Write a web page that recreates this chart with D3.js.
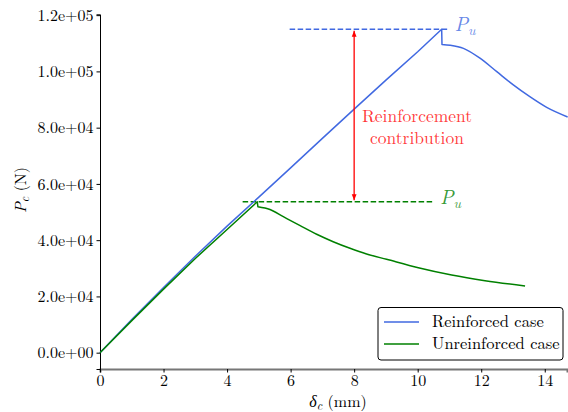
<!DOCTYPE html>
<html><head><meta charset="utf-8">
<script src="https://cdn.jsdelivr.net/npm/d3@7"></script>
</head>
<body style="margin:0;background:#fff"><svg id="c" width="568" height="412"></svg>
<script>
// ---- data ----
const xTicks = [0, 2, 4, 6, 8, 10, 12, 14];
const yTicks = [0, 20000, 40000, 60000, 80000, 100000, 120000];
const yTickLabels = ["0.0e+00","2.0e+04","4.0e+04","6.0e+04","8.0e+04","1.0e+05","1.2e+05"];
const reinforcedX = [0, 1, 2, 3, 4, 5, 6, 7, 8, 9, 10, 10.755, 10.765, 11.02, 11.44, 11.96, 12.49, 13.01, 13.53, 14.06, 14.72];
const reinforcedY = [0, 11800, 23200, 34300, 45000, 55300, 65700, 76200, 86600, 96900, 107000, 115000, 109600, 109300, 108200, 104700, 99900, 95200, 91000, 87200, 83800];
const unreinforcedX = [0, 1, 2, 3, 4, 4.95, 4.97, 5.35, 5.77, 6.30, 6.82, 7.34, 7.87, 8.39, 9.02, 10.02, 11.07, 12.12, 13.38];
const unreinforcedY = [0, 11400, 22600, 33500, 43800, 53650, 51900, 50900, 48350, 45150, 42090, 39460, 37110, 35090, 33200, 30220, 27620, 25600, 23710];
const puReinforced = 115000;
const puUnreinforced = 53650;
const dashReinforced = [5.97, 10.94];
const dashUnreinforced = [4.49, 10.48];
const arrowX = 8;
const seriesNames = ["Reinforced case", "Unreinforced case"];
const seriesColors = ["#4169e1", "#008000"];

// ---- chart ----
const FONT = '"Latin Modern Roman","Liberation Serif",serif';
const svg = d3.select("#c");
const x = d3.scaleLinear().domain([0, 14.7]).range([100, 567]);
const y = d3.scaleLinear().domain([-5800, 120300]).range([369, 14.3]);

const xAxis = svg.append("g").attr("transform", "translate(0,369)")
  .call(d3.axisBottom(x).tickValues(xTicks).tickSize(3.5).tickPadding(2.5).tickFormat(d3.format("d")));
const yAxis = svg.append("g").attr("transform", "translate(100,0)")
  .call(d3.axisLeft(y).tickValues(yTicks).tickSize(3.5).tickPadding(3).tickFormat((d,i)=>yTickLabels[i]));
[xAxis, yAxis].forEach(a => {
  a.selectAll("text").style("font-family", FONT).style("font-size", "16px").attr("fill", "#000");
  a.select(".domain").attr("stroke", "#000").attr("stroke-width", 1);
  a.selectAll(".tick line").attr("stroke", "#000");
});
xAxis.select(".domain").attr("stroke", "#777").attr("stroke-width", 2);

// rising part: straight segments; softening part: smooth curve
function drawSeries(xs, ys, color) {
  const data = xs.map((v, i) => [v, ys[i]]);
  const peak = d3.maxIndex(ys);
  const rise = data.slice(0, peak + 2);
  const fall = data.slice(peak + 1);
  const lin = d3.line().x(d => x(d[0])).y(d => y(d[1]));
  const mono = d3.line().x(d => x(d[0])).y(d => y(d[1])).curve(d3.curveMonotoneX);
  const d = lin(rise) + "L" + mono(fall).slice(1);
  svg.append("path").attr("d", d).attr("fill", "none")
    .attr("stroke", color).attr("stroke-width", 1.5).attr("stroke-linejoin", "round");
}

// dashed Pu lines
svg.append("line").attr("x1", x(dashReinforced[0])).attr("x2", x(dashReinforced[1]))
  .attr("y1", y(puReinforced)).attr("y2", y(puReinforced))
  .attr("stroke", seriesColors[0]).attr("stroke-width", 1.5).attr("stroke-dasharray", "5.5,2.5");
svg.append("line").attr("x1", x(dashUnreinforced[0])).attr("x2", x(dashUnreinforced[1]))
  .attr("y1", y(puUnreinforced)).attr("y2", y(puUnreinforced))
  .attr("stroke", seriesColors[1]).attr("stroke-width", 1.5).attr("stroke-dasharray", "5.5,2.5");

drawSeries(reinforcedX, reinforcedY, seriesColors[0]);
drawSeries(unreinforcedX, unreinforcedY, seriesColors[1]);

// Pu labels
function puLabel(xp, yp, color) {
  const t = svg.append("text").attr("x", xp).attr("y", yp).attr("fill", color).attr("fill-opacity", 0.8)
    .style("font-family", FONT).style("font-size", "20px").style("font-style", "italic");
  t.append("tspan").text("P");
  t.append("tspan").style("font-size", "14px").attr("dy", 4).text("u");
}
puLabel(x(dashReinforced[1]) + 7, y(puReinforced) + 2, seriesColors[0]);
puLabel(x(dashUnreinforced[1]) + 7, y(puUnreinforced) + 2, seriesColors[1]);

// red double arrow
const defs = svg.append("defs");
["s","e"].forEach(k => {
  defs.append("marker").attr("id", "ar" + k).attr("viewBox", "0 0 10 10").attr("refX", 10).attr("refY", 5)
    .attr("markerWidth", 6).attr("markerHeight", 6).attr("orient", "auto-start-reverse").attr("markerUnits", "userSpaceOnUse")
    .append("path").attr("d", "M0,1 L10,5 L0,9 Z").attr("fill", "red");
});
svg.append("line").attr("x1", x(arrowX)).attr("x2", x(arrowX))
  .attr("y1", y(puReinforced) + 1.5).attr("y2", y(puUnreinforced) - 1.5)
  .attr("stroke", "red").attr("stroke-width", 1.3)
  .attr("marker-start", "url(#ars)").attr("marker-end", "url(#are)");

[["Reinforcement", 121.5], ["contribution", 143.5]].forEach(([s, yy]) => {
  svg.append("text").attr("fill", "red").attr("fill-opacity", 0.8).attr("text-anchor", "middle")
    .attr("x", 417).attr("y", yy)
    .style("font-family", FONT).style("font-size", "17.5px").text(s);
});

// axis labels
const xl = svg.append("text").attr("x", 338).attr("y", 406.5).attr("text-anchor", "middle")
  .style("font-family", FONT).style("font-size", "16px");
xl.append("tspan").style("font-style", "italic").text("δ");
xl.append("tspan").style("font-style", "italic").style("font-size", "12px").attr("dy", 3).text("c");
xl.append("tspan").attr("dy", -3).text(" (mm)");

const yl = svg.append("text").attr("transform", "translate(26,190) rotate(-90)").attr("text-anchor", "middle")
  .style("font-family", FONT).style("font-size", "16px");
yl.append("tspan").style("font-style", "italic").text("P");
yl.append("tspan").style("font-style", "italic").style("font-size", "12px").attr("dy", 3).text("c");
yl.append("tspan").attr("dy", -3).text(" (N)");

// legend
const lg = svg.append("g");
lg.append("rect").attr("x", 378).attr("y", 307.5).attr("width", 185).attr("height", 52.5).attr("rx", 3)
  .attr("fill", "#fff").attr("fill-opacity", 0.9).attr("stroke", "#000").attr("stroke-width", 1);
seriesNames.forEach((n, i) => {
  const yy = 322 + i * 22;
  lg.append("line").attr("x1", 384).attr("x2", 419).attr("y1", yy).attr("y2", yy)
    .attr("stroke", seriesColors[i]).attr("stroke-width", 1.5);
  lg.append("text").attr("x", 432).attr("y", yy + 5).style("font-family", FONT).style("font-size", "16.5px").text(n);
});
</script></body></html>
